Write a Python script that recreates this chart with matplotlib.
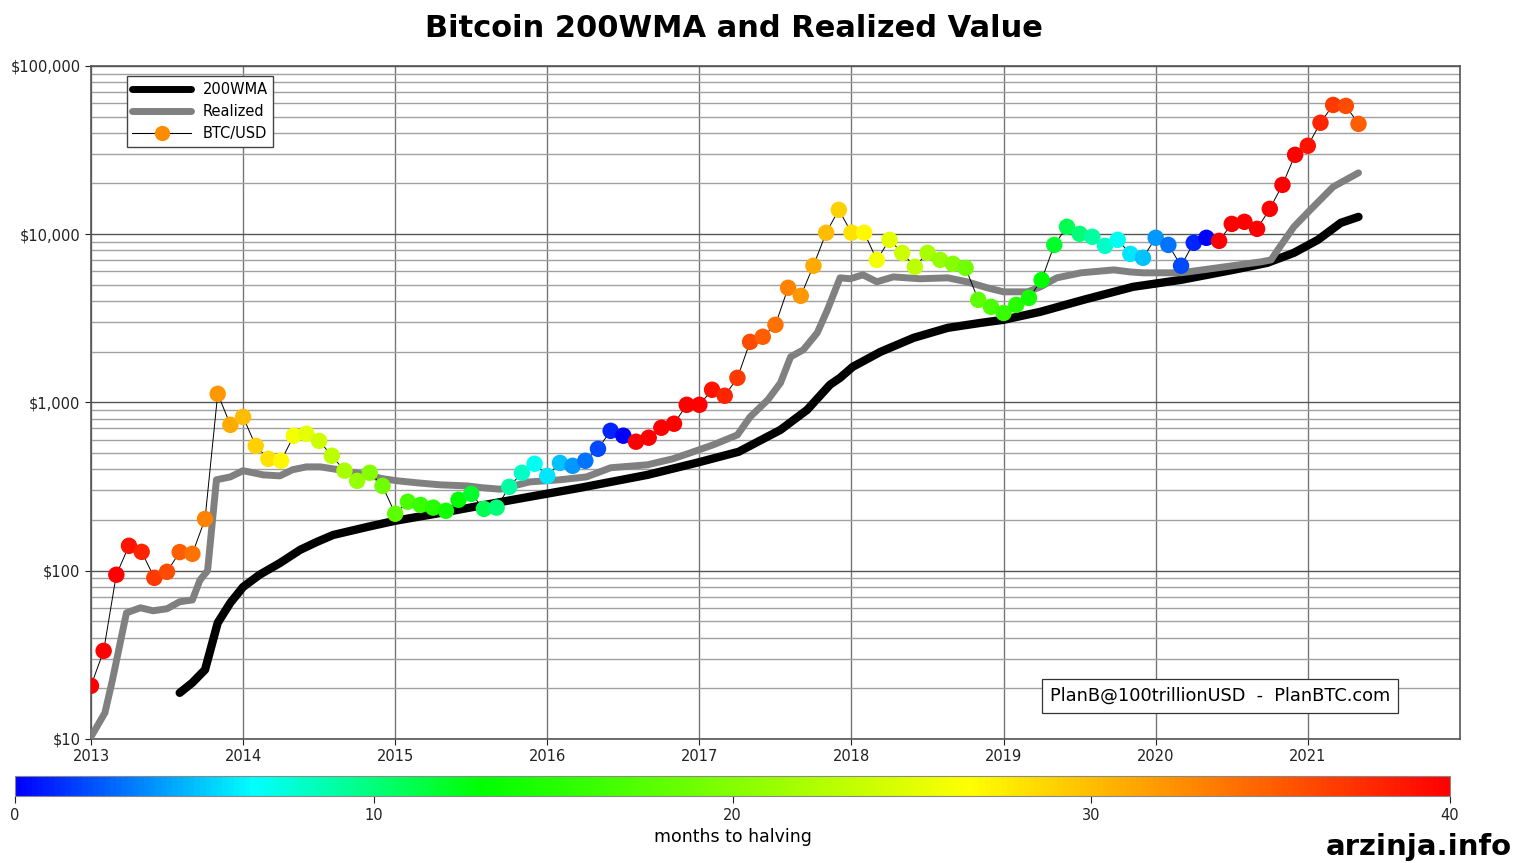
import numpy as np
import matplotlib
matplotlib.use('Agg')
import matplotlib.pyplot as plt
from matplotlib.colors import LinearSegmentedColormap
from matplotlib.lines import Line2D
from matplotlib.ticker import FuncFormatter, LogLocator, NullFormatter

# monthly BTC/USD close, Jan 2013 .. May 2021
btc_price = [
    20.7, 33.4, 94.6, 140.6, 129.4, 90.7, 98.5, 129, 126, 203, 1125, 736,
    820, 552, 462, 450, 634, 651, 591, 482, 393, 342, 382, 319,
    218, 257, 246, 237, 227, 264, 286, 233, 237, 315, 382, 432,
    366, 437, 420, 450, 530, 678, 634, 584, 617, 707, 747, 968,
    968, 1189, 1095, 1400, 2290, 2455, 2893, 4800, 4300, 6490, 10190, 13940,
    10200, 10200, 7030, 9250, 7740, 6400, 7740, 7030, 6660, 6300, 4070, 3700,
    3400, 3800, 4180, 5340, 8630, 11050, 10040, 9640, 8520, 9250, 7630, 7230,
    9510, 8630, 6490, 8880, 9510, 9120, 11500, 11830, 10750, 14130, 19620, 29600,
    33500, 45900, 58600, 57800, 45200,
]

# months until the next halving, same months as btc_price
months_to_halving = [
    42, 41, 40, 39, 38, 37, 36, 35, 34, 33, 32, 31,
    30, 29, 28, 27, 26, 25, 24, 23, 22, 21, 20, 19,
    18, 17, 16, 15, 14, 13, 12, 11, 10, 9, 8, 7,
    6, 5, 4, 3, 2, 1, 0, 45, 44, 43, 42, 41,
    40, 39, 38, 37, 36, 35, 34, 33, 32, 31, 30, 29,
    28, 27, 26, 25, 24, 23, 22, 21, 20, 19, 18, 17,
    16, 15, 14, 13, 12, 11, 10, 9, 8, 7, 6, 5,
    4, 3, 2, 1, 0, 46, 45, 44, 43, 42, 41, 40,
    39, 38, 37, 36, 35,
]

# 200 week moving average (month index since Jan 2013, value)
wma_month = [7, 8, 9, 10, 11, 12, 13.3, 14.9, 16.5, 17.8, 19.1, 21.8, 24, 28.1,
             33.3, 38.6, 43.9, 47.8, 51.1, 54.4, 56.5, 58.3, 59.1, 60.1, 62.3,
             64.9, 67.6, 70.2, 72, 74.9, 78.3, 82.2, 86, 90.1, 92.8, 94.9, 96.8,
             98.6, 100]
wma_value = [18.8, 21.6, 25.8, 49, 64.5, 80, 94.6, 111, 133, 148, 163, 182, 198,
             224, 264, 311, 371, 438, 509, 687, 903, 1273, 1400, 1628, 2000, 2420,
             2775, 2970, 3097, 3455, 4070, 4860, 5350, 6130, 6750, 7740, 9250,
             11670, 12670]

# realized price (month index since Jan 2013, value)
realized_month = [0, 1.1, 1.7, 2.8, 3.9, 4.9, 6.0, 7.0, 8.0, 8.6, 9.2, 9.9, 11.0,
                  12.0, 13.6, 14.9, 15.9, 17.0, 18.1, 19.1, 20.4, 21.8, 23.0, 24.2,
                  25.7, 27.5, 29.7, 30.9, 32.3, 34.6, 37.0, 39.1, 41.0, 43.9, 45.9,
                  47.3, 49.1, 51.0, 52.0, 53.4, 54.4, 55.2, 56.2, 57.3, 58.1, 59.1,
                  59.9, 60.9, 62.0, 63.3, 65.4, 67.6, 69.1, 70.7, 72.0, 73.9, 74.9,
                  76.2, 78.1, 80.7, 82.0, 83.0, 86.0, 88.9, 92.3, 93.1, 93.8, 94.9,
                  96.2, 98.0, 100]
realized_value = [10.3, 14.3, 22.5, 56.2, 60.2, 57.8, 59.4, 65.4, 67, 88, 100, 347,
                  361, 393, 371, 366, 398, 414, 414, 403, 387, 371, 352, 342, 333,
                  324, 319, 311, 305, 337, 347, 361, 409, 426, 462, 502, 560, 641,
                  820, 1036, 1307, 1866, 2054, 2592, 3548, 5500, 5430, 5730, 5210,
                  5570, 5430, 5500, 5210, 4800, 4540, 4540, 4860, 5500, 5890, 6130,
                  5960, 5890, 5890, 6310, 6840, 7030, 8410, 11050, 13940, 19100,
                  23130]

years = [2013, 2014, 2015, 2016, 2017, 2018, 2019, 2020, 2021]

x_btc = 2013 + np.arange(len(btc_price)) / 12.0
x_wma = 2013 + np.array(wma_month) / 12.0
x_real = 2013 + np.array(realized_month) / 12.0

cmap = LinearSegmentedColormap.from_list('halving', [
    (0.0, (0, 0, 1)), (0.165, (0, 1, 1)), (0.325, (0, 1, 0)),
    (0.665, (1, 1, 0)), (1.0, (1, 0, 0))])

fig = plt.figure(figsize=(15.16, 8.63), dpi=100)
ax = fig.add_axes([0.060, 0.1437, 0.903, 0.780])

ax.plot(x_wma, wma_value, color='black', lw=6, solid_capstyle='round', zorder=3)
ax.plot(x_real, realized_value, color='#808080', lw=5, solid_capstyle='round', zorder=3)
ax.plot(x_btc, btc_price, color='black', lw=0.7, zorder=4)
sc = ax.scatter(x_btc, btc_price, c=months_to_halving, cmap=cmap, vmin=0, vmax=40,
                s=140, edgecolors='none', zorder=5)

ax.set_yscale('log')
ax.set_ylim(10, 100000)
ax.set_xlim(2013, 2022)
ax.set_xticks(years)
ax.set_xticklabels([str(y) for y in years])
ax.yaxis.set_major_locator(LogLocator(base=10))
ax.yaxis.set_minor_locator(LogLocator(base=10, subs=np.arange(2, 10)))
ax.yaxis.set_minor_formatter(NullFormatter())
ax.yaxis.set_major_formatter(FuncFormatter(lambda v, p: '${:,.0f}'.format(v)))
ax.tick_params(axis='both', which='major', labelsize=10.5, colors='#222222', length=4)
ax.tick_params(axis='y', which='minor', length=0)
ax.grid(which='major', axis='x', color='#777777', lw=1)
ax.grid(which='major', axis='y', color='#555555', lw=1)
ax.grid(which='minor', axis='y', color='#a0a0a0', lw=1)
ax.set_axisbelow(True)
for s in ax.spines.values():
    s.set_color('#555555')
    s.set_linewidth(1.2)

handles = [
    Line2D([], [], color='black', lw=5, solid_capstyle='round'),
    Line2D([], [], color='#808080', lw=5, solid_capstyle='round'),
    Line2D([], [], color='black', lw=0.8, marker='o', markersize=11,
           markerfacecolor='#ff8c00', markeredgecolor='none'),
]
leg = ax.legend(handles, ['200WMA', 'Realized', 'BTC/USD'], loc='upper left',
                bbox_to_anchor=(0.026, 0.985), borderaxespad=0, fontsize=10.5,
                fancybox=False, handlelength=4, framealpha=1, edgecolor='#444444',
                labelspacing=0.5)

ax.text(0.825, 0.064, 'PlanB@100trillionUSD  -  PlanBTC.com', transform=ax.transAxes,
        ha='center', va='center', fontsize=12.8, zorder=6,
        bbox=dict(boxstyle='square,pad=0.45', fc='white', ec='#333333', lw=0.9))

fig.text(0.484, 0.967, 'Bitcoin 200WMA and Realized Value', ha='center', va='center',
         fontsize=22, fontweight='bold')

cax = fig.add_axes([0.0099, 0.0776, 0.9466, 0.0232])
cb = fig.colorbar(sc, cax=cax, orientation='horizontal')
cb.set_ticks([0, 10, 20, 30, 40])
cb.ax.tick_params(labelsize=10.5, colors='#222222', length=5)
cb.outline.set_edgecolor('#888888')
cb.set_label('months to halving', fontsize=12.5)

fig.text(0.936, 0.0185, 'arzinja.info', ha='center', va='center', fontsize=21,
         fontweight='bold')

fig.savefig('out.png', dpi=100)
